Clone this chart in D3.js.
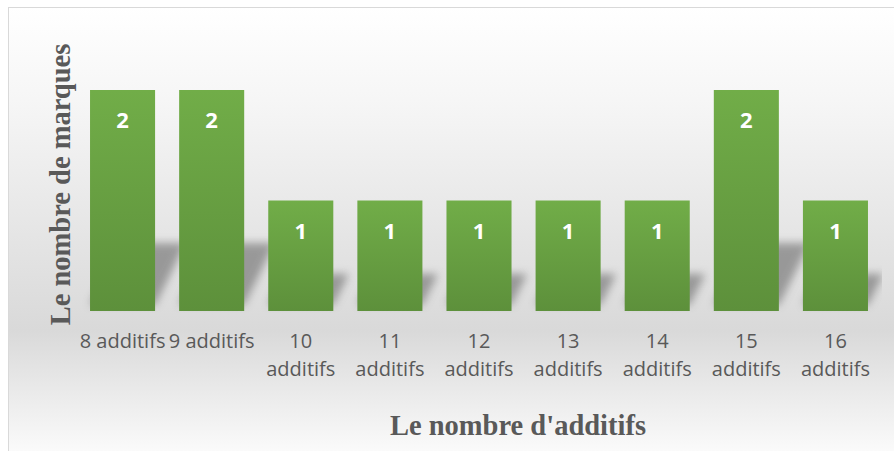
<!DOCTYPE html>
<html>
<head>
<meta charset="utf-8">
<script src="https://cdn.jsdelivr.net/npm/d3@7"></script>
<style>
  body { margin: 0; background: #fff; }
  svg { display: block; }
</style>
</head>
<body>
<script>
// chart data
var categories = ["8 additifs", "9 additifs", "10 additifs", "11 additifs", "12 additifs",
                  "13 additifs", "14 additifs", "15 additifs", "16 additifs"];
var counts = [2, 2, 1, 1, 1, 1, 1, 2, 1];
var xTitle = "Le nombre d'additifs";
var yTitle = "Le nombre de marques";

var width = 894, height = 451;
var baseY = 311, topY = 90;

var svg = d3.select("body").append("svg")
  .attr("width", width)
  .attr("height", height);

var defs = svg.append("defs");

// background gradient (white -> grey -> white)
var bg = defs.append("linearGradient")
  .attr("id", "bg").attr("x1", 0).attr("y1", 0).attr("x2", 0).attr("y2", 1);
bg.append("stop").attr("offset", "0%").attr("stop-color", "#ffffff");
bg.append("stop").attr("offset", "20%").attr("stop-color", "#f6f6f6");
bg.append("stop").attr("offset", "70%").attr("stop-color", "#d9d9d9");
bg.append("stop").attr("offset", "100%").attr("stop-color", "#ffffff");

// bar gradient
var barGrad = defs.append("linearGradient")
  .attr("id", "barGrad").attr("x1", 0).attr("y1", 0).attr("x2", 0).attr("y2", 1);
barGrad.append("stop").attr("offset", "0%").attr("stop-color", "#71ad48");
barGrad.append("stop").attr("offset", "100%").attr("stop-color", "#5d903b");

defs.append("filter").attr("id", "blur")
  .attr("x", "-50%").attr("y", "-50%").attr("width", "200%").attr("height", "200%")
  .append("feGaussianBlur").attr("stdDeviation", 4.5);

defs.append("clipPath").attr("id", "plotClip")
  .append("rect").attr("x", 78).attr("y", 20).attr("width", 804).attr("height", baseY - 20 + 2);

svg.append("rect")
  .attr("x", 8.5).attr("y", 7.5)
  .attr("width", width + 10).attr("height", height + 10)
  .attr("fill", "url(#bg)")
  .attr("stroke", "#d9d9d9");

var x = d3.scaleBand()
  .domain(categories)
  .range([78, 880])
  .paddingInner(0.27)
  .paddingOuter(0.135);

var y = d3.scaleLinear()
  .domain([0, 2])
  .range([baseY, topY]);

var data = categories.map(function(c, i) { return {cat: c, val: counts[i]}; });

// perspective shadows
svg.append("g")
  .attr("clip-path", "url(#plotClip)")
  .selectAll("path")
  .data(data)
  .enter().append("path")
    .attr("d", function(d) {
      var x0 = x(d.cat), x1 = x0 + x.bandwidth();
      var h = (baseY - y(d.val)) * 0.28;
      var dx = h * 0.5;
      var b = baseY - 6;
      return "M" + x0 + "," + b + "L" + x1 + "," + b +
             "L" + (x1 + dx) + "," + (b - h) + "L" + (x0 + dx) + "," + (b - h) + "Z";
    })
    .attr("fill", "#7a7a7a")
    .attr("opacity", 0.7)
    .attr("filter", "url(#blur)");

// bars
svg.append("g")
  .selectAll("rect")
  .data(data)
  .enter().append("rect")
    .attr("x", function(d) { return x(d.cat); })
    .attr("y", function(d) { return y(d.val); })
    .attr("width", x.bandwidth())
    .attr("height", function(d) { return baseY - y(d.val); })
    .attr("fill", "url(#barGrad)");

// value labels
svg.append("g")
  .selectAll("text")
  .data(data)
  .enter().append("text")
    .attr("x", function(d) { return x(d.cat) + x.bandwidth() / 2; })
    .attr("y", function(d) { return y(d.val) + 38; })
    .attr("text-anchor", "middle")
    .attr("font-family", "'Open Sans', sans-serif")
    .attr("font-weight", "bold")
    .attr("font-size", 22)
    .attr("fill", "#ffffff")
    .text(function(d) { return d.val; });

// x axis tick labels, wrapped when too wide
var xAxis = svg.append("g")
  .attr("transform", "translate(0," + baseY + ")")
  .call(d3.axisBottom(x).tickSize(0).tickPadding(0));
xAxis.select(".domain").remove();
xAxis.selectAll("text")
  .attr("font-family", "'Open Sans', sans-serif")
  .attr("font-size", 20)
  .attr("fill", "#595959")
  .attr("dy", null)
  .attr("y", 37)
  .each(function(d) {
    var t = d3.select(this);
    if (this.getComputedTextLength() > x.step()) {
      var words = d.split(" ");
      t.text(null);
      words.forEach(function(w, i) {
        t.append("tspan").attr("x", 0).attr("y", 37 + i * 28).text(w);
      });
    }
  });

// axis titles
svg.append("text")
  .attr("x", 518).attr("y", 435)
  .attr("text-anchor", "middle")
  .attr("font-family", "'Liberation Serif', 'Times New Roman', serif")
  .attr("font-weight", "bold")
  .attr("font-size", 28.5)
  .attr("fill", "#595959")
  .text(xTitle);

svg.append("text")
  .attr("transform", "translate(70,184.5) rotate(-90)")
  .attr("text-anchor", "middle")
  .attr("font-family", "'Liberation Serif', 'Times New Roman', serif")
  .attr("font-weight", "bold")
  .attr("font-size", 28.5)
  .attr("fill", "#595959")
  .text(yTitle);
</script>
</body>
</html>
